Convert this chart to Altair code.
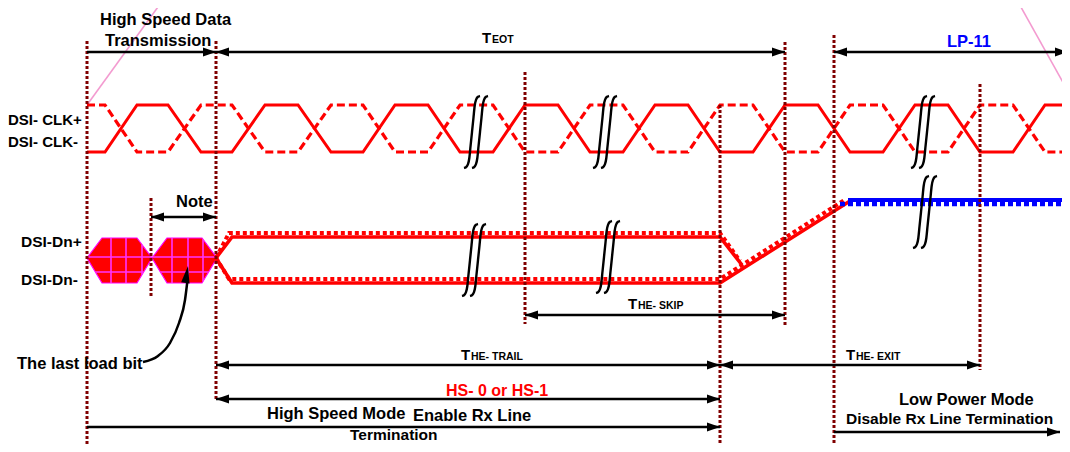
import altair as alt
import pandas as pd

# ---------------- frame (page pixel coordinates) ----------------
X0, X1 = 8, 1062
Y0, Y1 = 8, 444
W, H = X1 - X0, Y1 - Y0
FONT = "Liberation Sans"
DARKRED = "#800000"
RED = "#ff0000"

xs = alt.Scale(domain=[X0, X1], nice=False, zero=False)
ys = alt.Scale(domain=[Y0, Y1], nice=False, zero=False, reverse=True)

# ---------------- data ----------------
# clock (DSI-CLK+ solid, DSI-CLK- dashed)
CLK_T = [87, 105, 137, 168, 201, 232, 265, 298, 331, 363, 395, 428, 460, 493, 525, 558,
         590, 623, 655, 688, 720, 753, 785, 818, 850, 883, 915, 948, 980, 1013, 1045, 1075]
CLK_STATE = [0, 0, 1, 1, 0, 0, 1, 1, 0, 0, 1, 1, 0, 0, 1, 1,
             0, 0, 1, 1, 0, 0, 1, 1, 0, 0, 1, 1, 0, 0, 1, 1]
CLK_HIGH, CLK_LOW = 105, 152

# data lane
DP_SOLID_X = [216, 232, 720, 742]
DP_SOLID_Y = [258, 237, 237, 265]
DN_SOLID_X = [216, 232, 720, 850]
DN_SOLID_Y = [258, 283, 283, 201]
DP_DOT_X = [216, 229, 720, 740]
DP_DOT_Y = [258, 233, 233, 261]
DN_DOT_X = [216, 229, 720, 846]
DN_DOT_Y = [258, 279, 279, 199]
LP_SOLID_X = [848, 1075]
LP_SOLID_Y = [200, 200]
LP_DOT_X = [840, 1075]
LP_DOT_Y = [204, 204]

# last data bits (hexagons)
HEX_L = [87, 152]
HEX_R = [152, 217]
HEX_TOP, HEX_MID, HEX_BOT, HEX_INSET = 238, 258, 283, 15
GRID_VX = [111, 126, 142, 172, 188, 203]
GRID_HY = [257, 272]

# vertical dotted markers
VX = [87, 216, 151, 525, 720, 785, 834, 980]
VY1 = [41, 41, 198, 72, 105, 42, 35, 84]
VY2 = [450, 399, 298, 324, 446, 326, 450, 370]

# pink guide lines
PINK_X = [[87, 163], [1017, 1075]]
PINK_Y = [[105, 0], [0, 104]]

# break symbols
BREAK_X = [472, 480, 601, 609, 919, 927, 470, 478, 604, 612, 921, 929]
BREAK_Y = [132, 132, 132, 132, 132, 132, 260, 260, 257, 257, 212, 212]
BREAK_DX = [-8, -6, -4, -2.6, -1.6, 0, 1.6, 2.6, 4, 6, 8]
BREAK_DY = [36, 35.5, 33, 27, 15, 0, -15, -27, -33, -35.5, -36]

# dimension arrows
ARROW_X1 = [87, 216, 834, 151, 525, 216, 720, 216, 87, 834]
ARROW_X2 = [216, 785, 1068, 216, 785, 720, 980, 720, 720, 1060]
ARROW_Y = [52, 52, 52, 217, 315, 365, 365, 399, 427, 432]
ARROW_LHEAD = [0, 1, 1, 1, 1, 1, 1, 1, 0, 0]
ARROW_RHEAD = [1, 1, 1, 1, 1, 1, 1, 1, 1, 1]

# curved pointer "The last load bit"
CURVE_X = [143, 158, 170, 179, 185, 187.5]
CURVE_Y = [362, 356, 343, 323, 300, 280]
CURVE_TIP = (188, 266)

# labels
LBL_TEXT = ["High Speed Data", "Transmission", "T", "EOT", "LP-11",
            "DSI- CLK+", "DSI- CLK-", "DSI-Dn+", "DSI-Dn-", "Note",
            "T", "HE- SKIP", "The last load bit", "T", "HE- TRAIL", "T", "HE- EXIT",
            "HS- 0 or HS-1", "High Speed Mode", "Enable Rx Line", "Termination",
            "Low Power Mode", "Disable Rx Line Termination"]
LBL_X = [100, 105, 482, 492, 947,
         8, 8, 21, 21, 176,
         628, 638, 17, 461, 471, 846, 856,
         446, 267, 413, 350,
         899, 846]
LBL_Y = [25, 46, 43, 43, 47,
         125, 147, 247, 285, 207,
         309, 309, 369, 360, 360, 360, 360,
         396, 419, 421, 440,
         405, 424]
LBL_SIZE = [16.5, 16.5, 15, 10.5, 16.5,
            15, 15, 15.5, 15.5, 16.5,
            15, 10.5, 16.5, 15, 10.5, 15, 10.5,
            16, 16.5, 16.5, 15.5,
            16.5, 15.5]
LBL_COLOR = ["black", "black", "black", "black", "#0000ff",
             "black", "black", "black", "black", "black",
             "black", "black", "black", "black", "black", "black", "black",
             RED, "black", "black", "black",
             "black", "black"]

# ---------------- tables ----------------
clk = pd.DataFrame({
    "x": CLK_T,
    "yp": [CLK_HIGH if s else CLK_LOW for s in CLK_STATE],
    "yn": [CLK_LOW if s else CLK_HIGH for s in CLK_STATE],
    "o": range(len(CLK_T)),
})


def path_df(xs_, ys_, gid):
    return pd.DataFrame({"x": xs_, "y": ys_, "g": gid, "o": range(len(xs_))})


solid_red = pd.concat([path_df(DP_SOLID_X, DP_SOLID_Y, "p"), path_df(DN_SOLID_X, DN_SOLID_Y, "n")])
dot_red = pd.concat([path_df(DP_DOT_X, DP_DOT_Y, "p"), path_df(DN_DOT_X, DN_DOT_Y, "n")])
solid_blue = path_df(LP_SOLID_X, LP_SOLID_Y, "b")
dot_blue = path_df(LP_DOT_X, LP_DOT_Y, "b")
pink = pd.concat([path_df(px, py, str(i)) for i, (px, py) in enumerate(zip(PINK_X, PINK_Y))])

hex_rows = []
for i, (l, r) in enumerate(zip(HEX_L, HEX_R)):
    for x, t, b in [(l, HEX_MID, HEX_MID), (l + HEX_INSET, HEX_TOP, HEX_BOT),
                    (r - HEX_INSET, HEX_TOP, HEX_BOT), (r, HEX_MID, HEX_MID)]:
        hex_rows.append({"x": x, "t": t, "b": b, "g": i})
hexdf = pd.DataFrame(hex_rows)

grid_rows = []
for l, r in zip(HEX_L, HEX_R):
    for xv in GRID_VX:
        if l < xv < r:
            d = min(xv - l, r - xv)
            f = min(d / HEX_INSET, 1.0)
            grid_rows.append({"x": xv, "x2": xv,
                              "y": HEX_MID - (HEX_MID - HEX_TOP) * f,
                              "y2": HEX_MID + (HEX_BOT - HEX_MID) * f})
    for yh in GRID_HY:
        f = (HEX_MID - yh) / (HEX_MID - HEX_TOP) if yh < HEX_MID else (yh - HEX_MID) / (HEX_BOT - HEX_MID)
        grid_rows.append({"x": l + HEX_INSET * f, "x2": r - HEX_INSET * f, "y": yh, "y2": yh})
grid = pd.DataFrame(grid_rows)

vlines = pd.DataFrame({"x": VX, "y": VY1, "y2": VY2})

brk_rows = []
for k, (cx, cy) in enumerate(zip(BREAK_X, BREAK_Y)):
    for j, (dx, dy) in enumerate(zip(BREAK_DX, BREAK_DY)):
        brk_rows.append({"x": cx + dx, "y": cy + dy, "g": k, "o": j})
brk = pd.DataFrame(brk_rows)

arrows = pd.DataFrame({"x": ARROW_X1, "x2": ARROW_X2, "y": ARROW_Y})
rheads = pd.DataFrame({"x": [x for x, h in zip(ARROW_X2, ARROW_RHEAD) if h],
                       "y": [y for y, h in zip(ARROW_Y, ARROW_RHEAD) if h]})
lheads = pd.DataFrame({"x": [x for x, h in zip(ARROW_X1, ARROW_LHEAD) if h],
                       "y": [y for y, h in zip(ARROW_Y, ARROW_LHEAD) if h]})
curve = path_df(CURVE_X, CURVE_Y, "c")
tip = pd.DataFrame({"x": [CURVE_TIP[0]], "y": [CURVE_TIP[1]]})

labels = pd.DataFrame({"text": LBL_TEXT, "x": LBL_X, "y": LBL_Y, "size": LBL_SIZE, "color": LBL_COLOR})

# ---------------- encodings ----------------
ex = alt.X("x:Q", scale=xs, axis=None)
ey = alt.Y("y:Q", scale=ys, axis=None)


def line(df, color, width, dash=None, interp="linear"):
    kw = dict(color=color, strokeWidth=width, interpolate=interp, strokeCap="butt", strokeJoin="miter")
    if dash:
        kw["strokeDash"] = dash
    return alt.Chart(df).mark_line(**kw).encode(ex, ey, detail="g:N", order="o:Q")


layers = []
layers.append(line(pink, "#f39bd0", 1.6))

layers.append(alt.Chart(clk).mark_line(color=RED, strokeWidth=3, strokeJoin="miter").encode(
    ex, alt.Y("yp:Q", scale=ys, axis=None), order="o:Q"))
layers.append(alt.Chart(clk).mark_line(color=RED, strokeWidth=3.2, strokeDash=[8, 4]).encode(
    ex, alt.Y("yn:Q", scale=ys, axis=None), order="o:Q"))

layers.append(alt.Chart(hexdf).mark_area(color=RED, stroke="#ff00ff", strokeWidth=1.2, opacity=1).encode(
    ex, alt.Y("t:Q", scale=ys, axis=None), alt.Y2("b:Q"), detail="g:N"))
layers.append(alt.Chart(grid).mark_rule(color="#ff33ff", strokeWidth=1.6).encode(
    ex, ey, alt.X2("x2:Q"), alt.Y2("y2:Q")))

layers.append(line(solid_red, RED, 3.6))
layers.append(line(dot_red, RED, 4, dash=[4, 3]))
layers.append(line(solid_blue, "#0000ff", 4))
layers.append(line(dot_blue, "#0000ff", 4.5, dash=[5, 3]))

layers.append(alt.Chart(vlines).mark_rule(color=DARKRED, strokeWidth=3, strokeDash=[3, 2]).encode(
    ex, ey, alt.Y2("y2:Q")))

layers.append(line(brk, "black", 2.4, interp="basis"))

layers.append(alt.Chart(arrows).mark_rule(color="black", strokeWidth=2.5).encode(ex, ey, alt.X2("x2:Q")))
layers.append(alt.Chart(rheads).mark_point(shape="M0,0 L-2,-0.7 L-2,0.7 Z", size=169, filled=True,
                                           color="black", opacity=1, strokeWidth=0).encode(ex, ey))
layers.append(alt.Chart(lheads).mark_point(shape="M0,0 L2,-0.7 L2,0.7 Z", size=169, filled=True,
                                           color="black", opacity=1, strokeWidth=0).encode(ex, ey))
layers.append(line(curve, "black", 2.5, interp="monotone"))
layers.append(alt.Chart(tip).mark_point(shape="M0,0 L-0.5,2 L0.5,2 Z", size=289, filled=True, angle=9,
                                        color="black", opacity=1, strokeWidth=0).encode(ex, ey))

layers.append(alt.Chart(labels).mark_text(align="left", baseline="alphabetic", font=FONT,
                                          fontWeight="bold").encode(
    ex, ey, text="text:N",
    size=alt.Size("size:Q", scale=None),
    color=alt.Color("color:N", scale=None)))

chart = alt.layer(*layers).properties(
    width=W, height=H, padding=0, autosize="none", background="white"
).configure_view(stroke=None)

chart.save("out.html", embed_options={"renderer": "svg", "actions": False})
